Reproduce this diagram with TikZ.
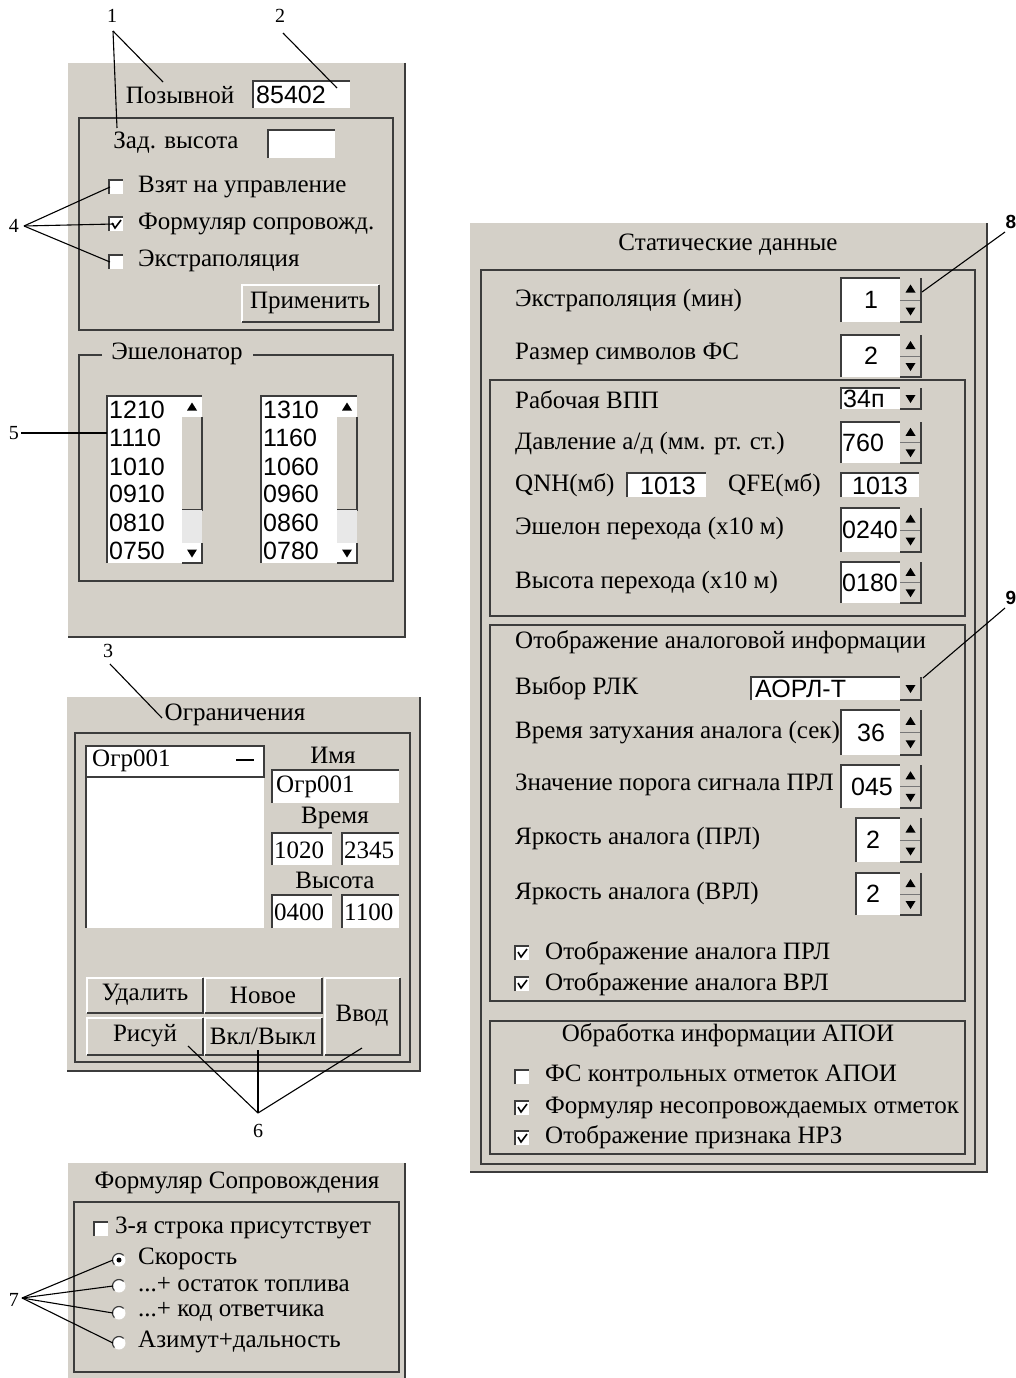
\documentclass[tikz,border=0pt]{standalone}
\usepackage{fontspec}
\setmainfont{Liberation Serif}
\newfontfamily\numf{Liberation Sans}
\definecolor{bg}{RGB}{212,208,200}
\definecolor{dk}{RGB}{60,60,60}
\definecolor{trk}{RGB}{232,232,232}
\newcommand\sunkbox[4]{%
  \fill[white] (#1,#2) rectangle (#3,#4);
  \draw[dk,line width=1.3] (#1,#4) -- (#1,#2) -- (#3,#2);}
\newcommand\upbtn[4]{%
  \fill[bg] (#1,#2) rectangle (#3,#4);
  \draw[white,line width=1.3] (#1,#4) -- (#1,#2) -- (#3,#2);
  \draw[dk,line width=1.5] (#1,#4) -- (#3,#4) -- (#3,#2);}
\newcommand\trup[2]{\fill[black] ({#1-5},{#2+3.5}) -- ({#1+5},{#2+3.5}) -- (#1,{#2-4.5}) -- cycle;}
\newcommand\trdn[2]{\fill[black] ({#1-5},{#2-3.5}) -- ({#1+5},{#2-3.5}) -- (#1,{#2+4.5}) -- cycle;}
\newcommand\spinbox[4]{%
  \sunkbox{#1}{#2}{#3-21}{#4}
  \fill[bg] ({#3-21},#2) rectangle (#3,#4);
  \draw[dk!70,line width=1] ({#3-21},{(#2+#4)/2}) -- (#3,{(#2+#4)/2});
  \draw[dk,line width=1.3] (#3,#2) -- (#3,#4) -- ({#3-21},#4);
  \trup{#3-10.5}{(3*#2+#4)/4}
  \trdn{#3-10.5}{(#2+3*#4)/4}}
\newcommand\ddbox[4]{%
  \sunkbox{#1}{#2}{#3-21}{#4}
  \fill[bg] ({#3-21},#2) rectangle (#3,#4);
  \draw[dk,line width=1.3] (#3,#2) -- (#3,#4) -- ({#3-21},#4);
  \trdn{#3-10.5}{(#2+#4)/2}}
\newcommand\lstbox[4]{%
  \sunkbox{#1}{#2}{#3}{#4}
  \fill[bg] ({#3-20},{#2+21}) rectangle (#3,{#2+114});
  \draw[dk,line width=1.3] (#3,{#2+21}) -- (#3,{#2+114}) -- ({#3-20},{#2+114});
  \fill[trk] ({#3-20},{#2+114}) rectangle (#3,{#4-20});
  \draw[dk,line width=1.3] ({#3-20},{#4}) -- (#3,#4) -- (#3,{#4-20});
  \trup{#3-10}{#2+11}
  \trdn{#3-10}{#4-10}}
\newcommand\chkbox[2]{%
  \fill[white] (#1,#2) rectangle ({#1+14},{#2+14});
  \draw[dk,line width=1.3] (#1,{#2+14}) -- (#1,#2) -- ({#1+14},#2);}
\newcommand\chkmark[2]{%
  \draw[black,line width=1.6] ({#1+3},{#2+6}) -- ({#1+6},{#2+11}) -- ({#1+12},{#2+3});}
\newcommand\radiob[2]{%
  \fill[white] (#1,#2) circle (6.5);
  \draw[dk,line width=1.2] (#1,#2) ++(135:6.5) arc (135:315:6.5);}
\begin{document}
\begin{tikzpicture}[x=1pt,y=-1pt,
  every node/.style={inner sep=0pt,font=\fontsize{25}{28}\selectfont},
  num/.style={font=\numf\fontsize{25}{28}\selectfont},
  cnum/.style={font=\fontsize{20}{22}\selectfont},
  bnum/.style={font=\numf\bfseries\fontsize{19}{21}\selectfont},
  frm/.style={draw=dk,line width=1.3},
  panedge/.style={draw=dk,line width=1.6},
  call/.style={draw=black,line width=1.1}]
\useasboundingbox (0,0) rectangle (1016,1378);
\fill[white] (0,0) rectangle (1016,1378);

% ===== Panel 1 =====
\fill[bg] (68,63) rectangle (405,637);
\draw[panedge] (405,63) -- (405,637) -- (68,637);
\node (pozyv) at (180,95) {Позывной};
\sunkbox{253}{81}{350}{108}
\node[num,anchor=west] (pozval) at (256,95) {85402};
\draw[frm] (79,118) rectangle (393,330);
\node (zadv) at (176,143) {Зад. высота};
\sunkbox{268}{130}{335}{158}
\chkbox{109}{180}
\chkbox{109}{217}
\chkmark{109}{217}
\chkbox{109}{255}
\node[anchor=west] (cb1) at (138,187) {Взят на управление};
\node[anchor=west] (cb2) at (138,224) {Формуляр сопровожд.};
\node[anchor=west] (cb3) at (138,261) {Экстраполяция};
\upbtn{242}{285}{379}{322}
\node (apply) at (310,303) {Применить};
\draw[frm] (102,355) -- (79,355) -- (79,581) -- (393,581) -- (393,355) -- (253,355);
\node (eshel) at (177,354) {Эшелонатор};
\lstbox{107}{396}{202}{563}
\lstbox{261}{396}{357}{563}
\foreach \a/\b/\y in {1210/1310/410,1110/1160/438,1010/1060/467,0910/0960/494,0810/0860/523,0750/0780/551}{
  \node[num,anchor=west] (l\a) at (109,\y) {\a};
  \node[num,anchor=west] (r\b) at (263,\y) {\b};
}

% ===== Panel 2 =====
\fill[bg] (67,697) rectangle (420,1071);
\draw[panedge] (420,697) -- (420,1071) -- (67,1071);
\node (ogr) at (235,715) {Ограничения};
\draw[frm] (75,733) rectangle (410,1062);
\sunkbox{86}{746}{264}{928}
\draw[dk,line width=1.2] (86,746) rectangle (264,777);
\node[anchor=west] (ogritem) at (92,761) {Огр001};
\draw[black,line width=1.6] (236,760) -- (254,760);
\node (imya) at (333,755) {Имя};
\sunkbox{272}{770}{399}{803}
\node[anchor=west] (imyav) at (276,787) {Огр001};
\node (vremya) at (335,818) {Время};
\sunkbox{272}{833}{332}{865}
\sunkbox{342}{833}{399}{865}
\node[anchor=west] (t1) at (274,850) {1020};
\node[anchor=west] (t2) at (344,850) {2345};
\node (vys) at (335,880) {Высота};
\sunkbox{272}{895}{332}{928}
\sunkbox{342}{895}{399}{928}
\node[anchor=west] (h1) at (274,912) {0400};
\node[anchor=west] (h2) at (344,912) {1100};
\upbtn{87}{978}{203}{1013}
\upbtn{205}{978}{322}{1013}
\upbtn{325}{978}{400}{1055}
\upbtn{87}{1018}{203}{1055}
\upbtn{205}{1018}{322}{1055}
\node (bdel) at (145,995) {Удалить};
\node (bnew) at (263,995) {Новое};
\node (bvvod) at (362,1016) {Ввод};
\node (bdraw) at (145,1036) {Рисуй};
\node (bonoff) at (263,1036) {Вкл/Выкл};

% ===== Panel 3 =====
\fill[bg] (68,1163) rectangle (405,1378);
\draw[panedge] (405,1163) -- (405,1378);
\node (form) at (237,1183) {Формуляр Сопровождения};
\draw[frm] (74,1202) rectangle (399,1372);
\chkbox{94}{1222}
\node[anchor=west] (cb4) at (115,1228) {3-я строка присутствует};
\radiob{119}{1260}
\fill[black] (119,1260) circle (2.5);
\radiob{119}{1286}
\radiob{119}{1313}
\radiob{119}{1343}
\node[anchor=west] (rb1) at (138,1259) {Скорость};
\node[anchor=west] (rb2) at (138,1285) {...+ остаток топлива};
\node[anchor=west] (rb3) at (138,1312) {...+ код ответчика};
\node[anchor=west] (rb4) at (138,1342) {Азимут+дальность};

% ===== Right panel =====
\fill[bg] (470,223) rectangle (987,1172);
\draw[panedge] (987,223) -- (987,1172) -- (470,1172);
\node (stat) at (728,245) {Статические данные};
\draw[frm] (481,270) rectangle (975,1164);
\node[anchor=west] (s1) at (515,300) {Экстраполяция (мин)};
\spinbox{841}{278}{921}{322}
\node[num] (s1v) at (871,300) {1};
\node[anchor=west] (s2) at (515,354) {Размер символов ФС};
\spinbox{841}{335}{921}{377}
\node[num] (s2v) at (871,356) {2};
\draw[frm] (490,380) rectangle (965,616);
\node[anchor=west] (s3) at (515,400) {Рабочая ВПП};
\ddbox{841}{388}{921}{409}
\node[num,anchor=west] (s3v) at (843,399) {34п};
\node[anchor=west] (s4) at (515,443) {Давление а/д (мм. рт. ст.)};
\spinbox{841}{422}{921}{463}
\node[num,anchor=west] (s4v) at (842,443) {760};
\node[anchor=west] (qnh) at (515,485) {QNH(мб)};
\sunkbox{627}{473}{706}{497}
\node[num] (qnhv) at (668,486) {1013};
\node[anchor=west] (qfe) at (728,485) {QFE(мб)};
\sunkbox{841}{473}{919}{497}
\node[num] (qfev) at (880,486) {1013};
\node[anchor=west] (s5) at (515,528) {Эшелон перехода (х10 м)};
\spinbox{841}{508}{921}{552}
\node[num,anchor=west] (s5v) at (842,530) {0240};
\node[anchor=west] (s6) at (515,582) {Высота перехода (х10 м)};
\spinbox{841}{562}{921}{603}
\node[num,anchor=west] (s6v) at (842,583) {0180};
\draw[frm] (490,625) rectangle (965,1001);
\node[anchor=west] (an) at (515,642) {Отображение аналоговой информации};
\node[anchor=west] (a1) at (515,688) {Выбор РЛК};
\ddbox{751}{677}{921}{700}
\node[num,anchor=west] (a1v) at (755,689) {АОРЛ-Т};
\spinbox{841}{710}{921}{755}
\node[anchor=west] (a2) at (515,733) {Время затухания аналога (сек)};
\node[num] (a2v) at (871,733) {36};
\spinbox{841}{765}{921}{808}
\node[anchor=west] (a3) at (515,785) {Значение порога сигнала ПРЛ};
\node[num] (a3v) at (872,787) {045};
\node[anchor=west] (a4) at (515,838) {Яркость аналога (ПРЛ)};
\spinbox{856}{818}{921}{862}
\node[num] (a4v) at (873,840) {2};
\node[anchor=west] (a5) at (515,893) {Яркость аналога (ВРЛ)};
\spinbox{856}{873}{921}{915}
\node[num] (a5v) at (873,894) {2};
\chkbox{515}{946}
\chkmark{515}{946}
\node[anchor=west] (a6) at (545,953) {Отображение аналога ПРЛ};
\chkbox{515}{977}
\chkmark{515}{977}
\node[anchor=west] (a7) at (545,984) {Отображение аналога ВРЛ};
\draw[frm] (490,1021) rectangle (965,1154);
\node (apoi) at (728,1035) {Обработка информации АПОИ};
\chkbox{515}{1070}
\node[anchor=west] (p1) at (545,1076) {ФС контрольных отметок АПОИ};
\chkbox{515}{1101}
\chkmark{515}{1101}
\node[anchor=west] (p2) at (545,1108) {Формуляр несопровождаемых отметок};
\chkbox{515}{1131}
\chkmark{515}{1131}
\node[anchor=west] (p3) at (545,1137) {Отображение признака НРЗ};

% ===== Callouts =====
\node[cnum] (n1) at (112,16) {1};
\node[cnum] (n2) at (280,16) {2};
\node[cnum] (n3) at (108,651) {3};
\node[cnum] (n4) at (14,226) {4};
\node[cnum] (n5) at (14,433) {5};
\node[cnum] (n6) at (258,1131) {6};
\node[cnum] (n7) at (14,1300) {7};
\node[bnum] (n8) at (1011,222) {8};
\node[bnum] (n9) at (1011,598) {9};
\coordinate (c1) at (113,31);
\coordinate (c2) at (283,33);
\coordinate (c3) at (110,664);
\coordinate (c4) at (24,226);
\coordinate (c6) at (258,1113);
\coordinate (c7) at (22,1298);
\draw[call] (c1) -- (163,82);
\draw[call] (c1) -- (117,128);
\draw[call] (c2) -- (337,88);
\draw[call] (c3) -- (162,718);
\draw[call] (c4) -- (110,187);
\draw[call] (c4) -- (114,224);
\draw[call] (c4) -- (110,262);
\draw[call] (n5.east) ++(2,0) -- (107,433);
\draw[call] (c6) -- (188,1046);
\draw[call] (c6) -- (258,1050);
\draw[call] (c6) -- (362,1048);
\draw[call] (c7) -- (113,1260);
\draw[call] (c7) -- (113,1286);
\draw[call] (c7) -- (113,1313);
\draw[call] (c7) -- (113,1343);
\draw[call] (1005,232) -- (922,292);
\draw[call] (1005,608) -- (923,678);
\end{tikzpicture}
\end{document}
